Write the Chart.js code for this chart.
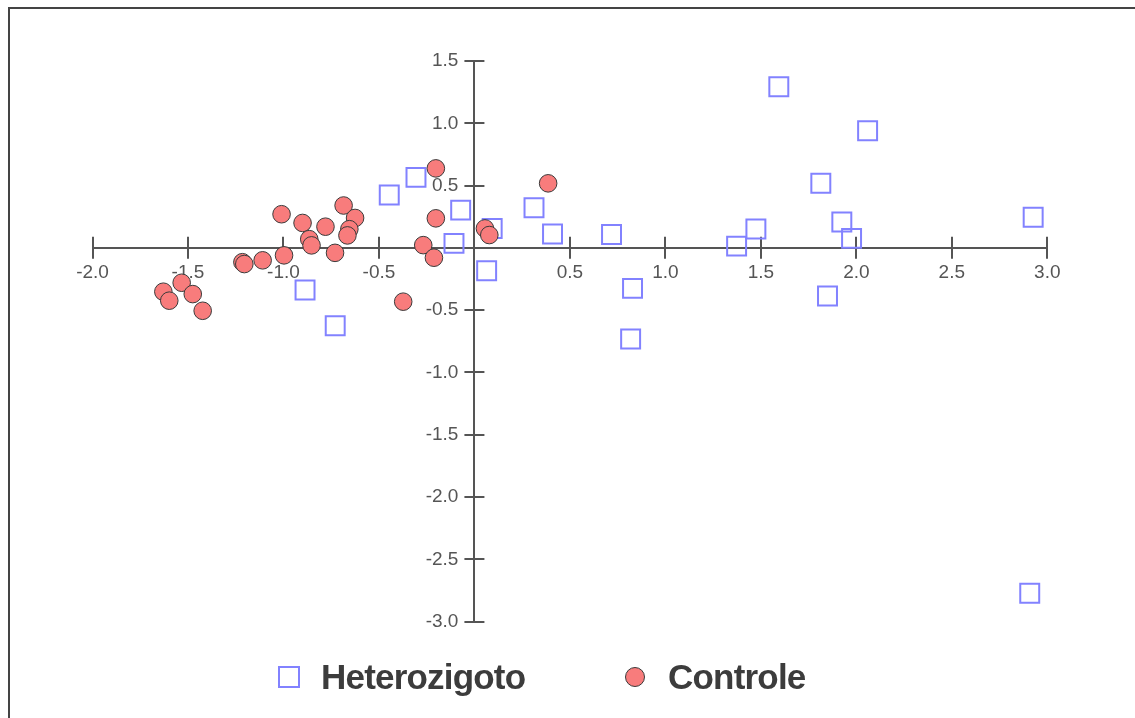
<!DOCTYPE html>
<html>
<head>
<meta charset="utf-8">
<script src="https://cdn.jsdelivr.net/npm/chart.js@4/dist/chart.umd.min.js"></script>
<style>
  html, body { margin: 0; padding: 0; background: #fff; }
  #wrap { position: relative; width: 1135px; height: 718px; overflow: hidden; }
  #frame { position: absolute; left: 8px; top: 7px; right: -10px; bottom: -10px;
           border-top: 2px solid #444; border-left: 2px solid #444; }
  canvas { position: absolute; left: 0; top: 0; }
  .lg-box { position: absolute; box-sizing: border-box; }
  .lg-text { position: absolute; font: bold 35px "Liberation Sans", Arial, sans-serif;
             letter-spacing: -0.8px; line-height: 35px; color: #3c3c3c; white-space: nowrap; }
</style>
</head>
<body>
<div id="wrap">
  <div id="frame"></div>
  <canvas id="chart" width="1135" height="718"></canvas>
  <div id="legend"></div>
</div>
<script>
// Heterozigoto (quadrados)
const heteroX = [-0.446, -0.306, -0.072, -0.107, 0.093, 0.064, 0.312, 0.409, -0.887, -0.729,
  1.594, 0.718, 0.828, 0.818, 1.373, 1.474, 1.814, 1.924, 1.975, 1.849, 2.059, 2.926, 2.908];
const heteroY = [0.424, 0.566, 0.303, 0.036, 0.156, -0.184, 0.322, 0.111, -0.339, -0.625,
  1.293, 0.108, -0.325, -0.732, 0.014, 0.151, 0.518, 0.207, 0.076, -0.387, 0.940, 0.245, -2.773];

// Controle (circulos)
const controleX = [-1.01, -0.90, -0.78, -0.685, -0.625, -0.655, -0.665, -0.865, -0.853, -0.73,
  -0.997, -1.109, -1.215, -1.205, -1.533, -1.629, -1.598, -1.475, -1.423,
  -0.202, -0.202, -0.268, -0.212, -0.373, 0.055, 0.078, 0.386];
const controleY = [0.27, 0.20, 0.17, 0.34, 0.24, 0.15, 0.10, 0.07, 0.02, -0.04,
  -0.06, -0.10, -0.115, -0.13, -0.28, -0.352, -0.424, -0.371, -0.505,
  0.638, 0.237, 0.022, -0.079, -0.432, 0.156, 0.103, 0.518];

const xMin = -2.0, xMax = 3.0;
const yMin = -3.0, yMax = 1.5;
const tickStep = 0.5;

const toPoints = (xs, ys) => xs.map((x, i) => ({ x: x, y: ys[i] }));

const axisColor = "#555";
const tickFont = { family: "'Liberation Sans', Arial, sans-serif", size: 19 };
const yLabelGap = 16;

const fmtTick = (v) => (Math.abs(v) < 1e-9 ? "" : Number(v).toFixed(1));

// marcas de escala cruzando o eixo + afasta os rótulos do eixo y
const crossTicks = {
  id: "crossTicks",
  beforeDraw(chart) {
    const ys = chart.scales.y;
    if (ys._gapDone) return;
    const items = ys.getLabelItems(chart.chartArea);
    items.forEach((it) => {
      if (it.options && it.options.translation) it.options.translation[0] -= yLabelGap;
    });
    ys._gapDone = true;
  },
  afterUpdate(chart) {
    chart.scales.y._gapDone = false;
  },
  beforeDatasetsDraw(chart) {
    const { ctx, scales } = chart;
    const x0 = scales.x.getPixelForValue(0);
    const y0 = scales.y.getPixelForValue(0);
    ctx.save();
    ctx.strokeStyle = axisColor;
    ctx.lineWidth = 2;
    ctx.beginPath();
    scales.x.ticks.forEach((t) => {
      if (Math.abs(t.value) < 1e-9) return;
      const px = Math.round(scales.x.getPixelForValue(t.value));
      ctx.moveTo(px, y0 - 11);
      ctx.lineTo(px, y0 + 11);
    });
    scales.y.ticks.forEach((t) => {
      if (Math.abs(t.value) < 1e-9) return;
      const py = Math.round(scales.y.getPixelForValue(t.value));
      ctx.moveTo(x0 - 10, py);
      ctx.lineTo(x0 + 10, py);
    });
    ctx.stroke();
    ctx.restore();
  },
};

const chart = new Chart(document.getElementById("chart"), {
  type: "scatter",
  data: {
    datasets: [
      {
        label: "Heterozigoto",
        data: toPoints(heteroX, heteroY),
        pointStyle: "rect",
        radius: 13.4,
        hoverRadius: 13.4,
        backgroundColor: "rgba(0,0,0,0)",
        borderColor: "#8282ff",
        borderWidth: 2,
        order: 2,
        clip: false,
      },
      {
        label: "Controle",
        data: toPoints(controleX, controleY),
        pointStyle: "circle",
        radius: 8.8,
        hoverRadius: 8.8,
        backgroundColor: "#f87c7c",
        borderColor: "#3a3a3a",
        borderWidth: 1,
        order: 1,
        clip: false,
      },
    ],
  },
  options: {
    responsive: false,
    devicePixelRatio: 1,
    animation: false,
    layout: { padding: { left: 92.5, right: 87.7, top: 61, bottom: 96.4 } },
    plugins: {
      legend: { display: false },
      tooltip: { enabled: false },
    },
    scales: {
      x: {
        type: "linear",
        position: { y: 0 },
        min: xMin,
        max: xMax,
        grid: { drawOnChartArea: false, drawTicks: false },
        border: { color: axisColor, width: 2 },
        ticks: { stepSize: tickStep, padding: 13, color: "#555", font: tickFont,
                 maxRotation: 0, autoSkip: false, callback: fmtTick },
      },
      y: {
        type: "linear",
        position: { x: 0 },
        min: yMin,
        max: yMax,
        grid: { drawOnChartArea: false, drawTicks: false },
        border: { color: axisColor, width: 2 },
        ticks: { stepSize: tickStep, padding: 16, color: "#555", font: tickFont,
                 autoSkip: false, callback: fmtTick },
      },
    },
  },
  plugins: [crossTicks],
});

// legenda em HTML a partir dos datasets
const legendPos = {
  Heterozigoto: { box: [278, 666, 22, 22], text: [321, 659] },
  Controle: { box: [625, 667, 20, 20], text: [668, 659] },
};
const legend = document.getElementById("legend");
chart.data.datasets.forEach((ds) => {
  const p = legendPos[ds.label];
  const box = document.createElement("div");
  box.className = "lg-box";
  box.style.left = p.box[0] + "px";
  box.style.top = p.box[1] + "px";
  box.style.width = p.box[2] + "px";
  box.style.height = p.box[3] + "px";
  box.style.border = ds.borderWidth + "px solid " + ds.borderColor;
  box.style.background = ds.backgroundColor;
  if (ds.pointStyle === "circle") box.style.borderRadius = "50%";
  legend.appendChild(box);
  const txt = document.createElement("div");
  txt.className = "lg-text";
  txt.style.left = p.text[0] + "px";
  txt.style.top = p.text[1] + "px";
  txt.textContent = ds.label;
  legend.appendChild(txt);
});
</script>
</body>
</html>
